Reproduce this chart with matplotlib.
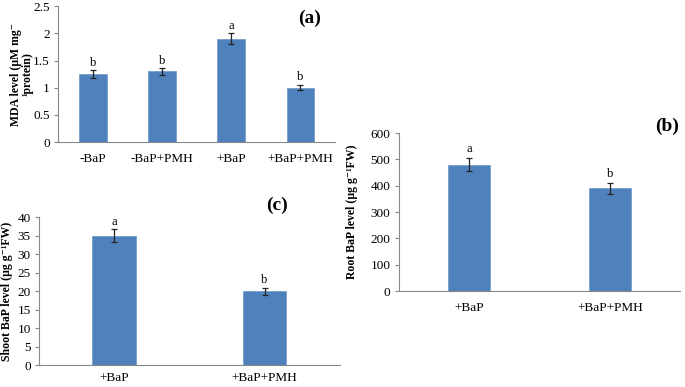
import matplotlib
matplotlib.use("Agg")
import matplotlib.pyplot as plt
import numpy as np

plt.rcParams['font.family'] = ['Liberation Serif', 'DejaVu Serif']

# data
mda_groups = ['-BaP', '-BaP+PMH', '+BaP', '+BaP+PMH']
mda_vals = [1.25, 1.30, 1.90, 1.00]
mda_err = [0.07, 0.06, 0.10, 0.05]
mda_letters = ['b', 'b', 'a', 'b']

root_groups = ['+BaP', '+BaP+PMH']
root_vals = [480, 390]
root_err = [25, 20]
root_letters = ['a', 'b']

shoot_groups = ['+BaP', '+BaP+PMH']
shoot_vals = [35, 20]
shoot_err = [1.7, 1.0]
shoot_letters = ['a', 'b']

bar_col = '#4F81BD'
spine_col = '#888888'

fig = plt.figure(figsize=(6.85, 3.87), dpi=100)


def panel(rect, groups, vals, err, letters, ylim, step, width, ylabel, tag, tagpos, lab_off, xpad=8):
    ax = fig.add_axes(rect)
    x = np.arange(len(groups))
    ax.bar(x, vals, width=width, color=bar_col, edgecolor='#6d96c8', linewidth=0.5,
           yerr=err, error_kw=dict(ecolor='#222222', elinewidth=0.9, capsize=2.2, capthick=0.9))
    ax.set_xlim(-0.5, len(groups) - 0.5)
    ax.set_ylim(*ylim)
    ax.set_yticks(np.arange(ylim[0], ylim[1] + step / 2, step))
    ax.set_xticks(x)
    ax.set_xticklabels(groups, fontsize=9.5)
    ax.tick_params(axis='x', length=0, pad=xpad)
    ax.tick_params(axis='y', length=3, color=spine_col, labelsize=9.5, pad=3)
    for s in ['top', 'right']:
        ax.spines[s].set_visible(False)
    for s in ['left', 'bottom']:
        ax.spines[s].set_color(spine_col)
        ax.spines[s].set_linewidth(0.8)
    for xi, v, e, l in zip(x, vals, err, letters):
        ax.text(xi, v + e + lab_off, l, ha='center', va='bottom', fontsize=9)
    ax.set_ylabel(ylabel, fontsize=8.5, fontweight='bold', linespacing=0.95)
    ax.text(tagpos[0], tagpos[1], tag, transform=ax.transAxes, fontsize=14,
            fontweight='bold', ha='center', va='center')
    # format y ticks like excel
    ax.set_yticklabels([('%g' % t) for t in ax.get_yticks()])
    return ax


axa = panel([0.085, 0.633, 0.404, 0.351], mda_groups, mda_vals, mda_err, mda_letters,
            (0, 2.5), 0.5, 0.4, 'MDA level (\u00b5M mg\u207b\n\u00b9protein)', '(a)', (0.91, 0.91), 0.03)
axa.yaxis.set_label_coords(-0.09, 0.5)

axb = panel([0.582, 0.248, 0.411, 0.408], root_groups, root_vals, root_err, root_letters,
            (0, 600), 100, 0.3, 'Root BaP level (\u00b5g g\u207b\u00b9FW)', '(b)', (0.955, 1.04), 10)
axb.yaxis.set_label_coords(-0.145, 0.5)

axc = panel([0.057, 0.056, 0.439, 0.383], shoot_groups, shoot_vals, shoot_err, shoot_letters,
            (0, 40), 5, 0.29, 'Shoot BaP level (\u00b5g g\u207b\u00b9FW)', '(c)', (0.79, 1.08), 0.4, xpad=5)
axc.yaxis.set_label_coords(-0.085, 0.5)

fig.savefig('out.png', dpi=100)
